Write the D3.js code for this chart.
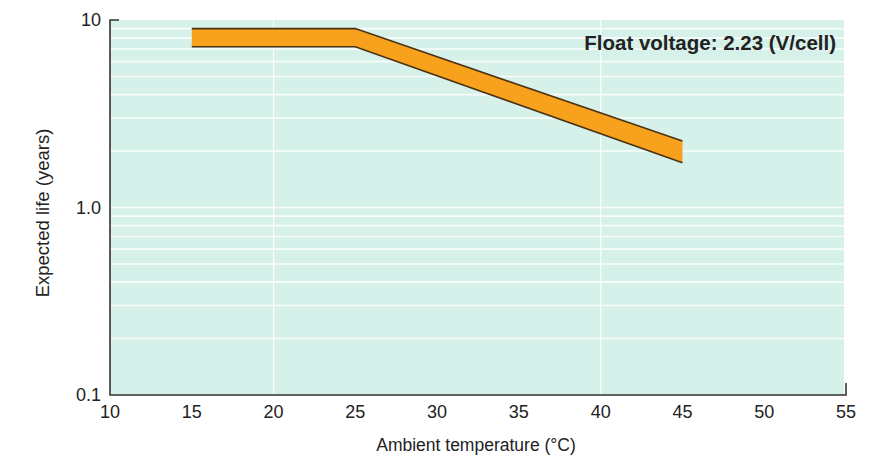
<!DOCTYPE html>
<head>
  <meta charset="utf-8">
  <script src="https://d3js.org/d3.v7.min.js"></script>
  <style>
    body { margin:0; background:#fff; }
    text { font-family: "Liberation Sans", Arial, sans-serif; fill:#222; }
  </style>
</head>
<body>
<script>
// data
var temps = [15, 25, 45];
var lifeUpper = [9.0, 9.0, 2.26];
var lifeLower = [7.2, 7.2, 1.73];
var xTicks = [10, 15, 20, 25, 30, 35, 40, 45, 50, 55];
var yTicks = [0.1, 1, 10];
var yTickLabels = ["0.1", "1.0", "10"];
var xGrid = [20, 40];

var W = 890, H = 458;
var m = {top: 20, right: 44, bottom: 63, left: 110};

var svg = d3.select("body").append("svg")
  .attr("width", W).attr("height", H);

var x = d3.scaleLinear().domain([10, 55]).range([m.left, W - m.right]);
var y = d3.scaleLog().domain([0.1, 10]).range([H - m.bottom, m.top]);

// background
svg.append("rect")
  .attr("x", x(10)).attr("y", y(10))
  .attr("width", x(55) - x(10) - 2).attr("height", y(0.1) - y(10))
  .attr("fill", "#d6f1e9");

// horizontal grid at log minor ticks
var hGrid = [];
[0.1, 1].forEach(function(d) {
  for (var k = 1; k <= 9; k++) hGrid.push(d * k);
});
svg.append("g").selectAll("line").data(hGrid.filter(function(v) { return v > 0.1; }))
  .enter().append("line")
  .attr("x1", x(10)).attr("x2", x(55) - 2)
  .attr("y1", function(d) { return y(d); }).attr("y2", function(d) { return y(d); })
  .attr("stroke", "#ffffff").attr("stroke-width", 1.6).attr("opacity", 0.85);

svg.append("g").selectAll("line").data(xGrid)
  .enter().append("line")
  .attr("x1", function(d) { return x(d); }).attr("x2", function(d) { return x(d); })
  .attr("y1", y(10)).attr("y2", y(0.1))
  .attr("stroke", "#ffffff").attr("stroke-width", 1.4).attr("opacity", 0.9);

// orange band
var band = temps.map(function(t, i) { return {t: t, hi: lifeUpper[i], lo: lifeLower[i]}; });
svg.append("path").datum(band)
  .attr("d", d3.area()
    .x(function(d) { return x(d.t); })
    .y0(function(d) { return y(d.lo); })
    .y1(function(d) { return y(d.hi); }))
  .attr("fill", "#f7a11c");
[["hi"], ["lo"]].forEach(function(k) {
  svg.append("path").datum(band)
    .attr("d", d3.line()
      .x(function(d) { return x(d.t); })
      .y(function(d) { return y(d[k[0]]); }))
    .attr("fill", "none").attr("stroke", "#4a3212").attr("stroke-width", 1.6);
});

// axes
var ax = svg.append("g").attr("stroke", "#333").attr("stroke-width", 1.6).attr("fill", "none");
ax.append("path").attr("d",
  "M" + (x(10) + 9) + "," + y(10) + "H" + x(10) + "V" + y(0.1) + "H" + x(55) + "V" + (y(0.1) - 12));

// tick labels
svg.append("g").selectAll("text").data(xTicks)
  .enter().append("text")
  .attr("x", function(d) { return x(d); })
  .attr("y", y(0.1) + 23)
  .attr("text-anchor", "middle")
  .attr("font-size", 18)
  .text(function(d) { return d; });

svg.append("g").selectAll("text").data(yTicks)
  .enter().append("text")
  .attr("x", x(10) - 9)
  .attr("y", function(d) { return y(d) + 6; })
  .attr("text-anchor", "end")
  .attr("font-size", 18)
  .text(function(d, i) { return yTickLabels[i]; });

// titles
svg.append("text")
  .attr("x", 476).attr("y", 451)
  .attr("text-anchor", "middle").attr("font-size", 17.5)
  .text("Ambient temperature (°C)");

svg.append("text")
  .attr("transform", "translate(49," + 213 + ") rotate(-90)")
  .attr("text-anchor", "middle").attr("font-size", 18.5)
  .text("Expected life (years)");

svg.append("text")
  .attr("x", 836).attr("y", 50)
  .attr("text-anchor", "end").attr("font-size", 20.5)
  .attr("font-weight", "bold").attr("style", "font-weight:600")
  .text("Float voltage: 2.23 (V/cell)");
</script>
</body>
